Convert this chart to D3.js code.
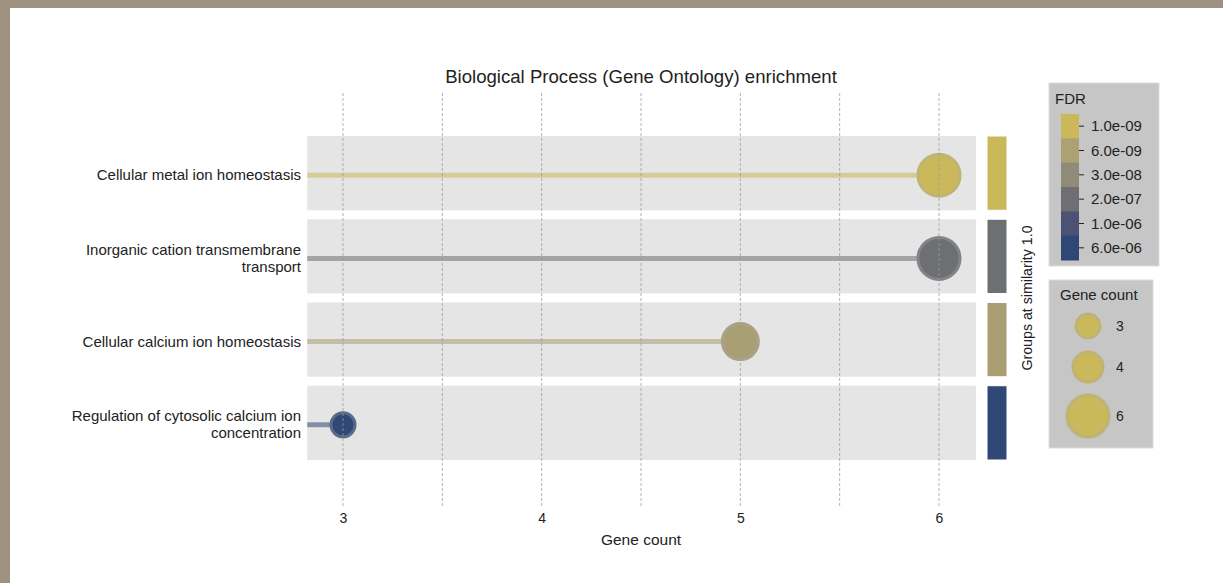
<html>
<head>
  <style type="text/css">
    body { margin: 0; background: #fff; }
    text { font-family: "Liberation Sans", Arial, sans-serif; }
  </style>
</head>
<body>
  <div id="viz"></div>
  <script src="https://cdnjs.cloudflare.com/ajax/libs/d3/7.8.5/d3.min.js"></script>
  <script>
  // data
  const terms = [
    'Cellular metal ion homeostasis',
    'Inorganic cation transmembrane transport',
    'Cellular calcium ion homeostasis',
    'Regulation of cytosolic calcium ion concentration'
  ];
  const termLines = [
    ['Cellular metal ion homeostasis'],
    ['Inorganic cation transmembrane', 'transport'],
    ['Cellular calcium ion homeostasis'],
    ['Regulation of cytosolic calcium ion', 'concentration']
  ];
  const geneCounts = [6, 6, 5, 3];
  const fdrValues = [1.0e-9, 2.0e-7, 7.0e-9, 5.5e-6];
  const xTicks = [3, 4, 5, 6];
  const xGridTicks = [3, 3.5, 4, 4.5, 5, 5.5, 6];
  const fdrTicks = [1.0e-9, 6.0e-9, 3.0e-8, 2.0e-7, 1.0e-6, 6.0e-6];
  const fdrTickLabels = ['1.0e-09', '6.0e-09', '3.0e-08', '2.0e-07', '1.0e-06', '6.0e-06'];
  const fdrColors = ['#cab85a', '#ada072', '#908a78', '#6e6f73', '#4b5273', '#2f4775'];
  const sizeLegend = [3, 4, 6];

  const W = 1223, H = 583;

  const svg = d3.select('#viz').append('svg')
    .attr('width', W)
    .attr('height', H);

  // tan frame on top and left
  svg.append('rect').attr('x', 0).attr('y', 0).attr('width', W).attr('height', H).attr('fill', '#9c927f');
  svg.append('rect').attr('x', 10).attr('y', 8).attr('width', W - 10).attr('height', H - 8).attr('fill', '#fff');

  const x = d3.scaleLinear().domain([3, 6]).range([343, 939]);
  const xExtent = [2.82, 6.186];

  const y = d3.scaleBand()
    .domain(terms)
    .range([136, 460])
    .paddingInner(0.108)
    .paddingOuter(0);

  const r = d3.scaleLinear().domain([3, 6]).range([13.5, 22.5]);

  const color = d3.scaleLog()
    .domain(fdrTicks)
    .range(fdrColors)
    .interpolate(d3.interpolateRgb)
    .clamp(true);

  // title
  svg.append('text')
    .attr('x', x(4.5))
    .attr('y', 83)
    .attr('text-anchor', 'middle')
    .attr('font-size', 18.6)
    .attr('fill', '#222')
    .text('Biological Process (Gene Ontology) enrichment');

  // row bands
  svg.append('g').selectAll('rect').data(terms)
    .enter().append('rect')
      .attr('x', x(xExtent[0]))
      .attr('width', x(xExtent[1]) - x(xExtent[0]))
      .attr('y', d => y(d))
      .attr('height', y.bandwidth())
      .attr('fill', '#e5e5e5');

  // group colour bars
  svg.append('g').selectAll('rect').data(terms)
    .enter().append('rect')
      .attr('x', 987)
      .attr('width', 20)
      .attr('y', d => y(d))
      .attr('height', y.bandwidth())
      .attr('fill', (d, i) => color(fdrValues[i]))
      .attr('stroke', '#fff')
      .attr('stroke-width', 1);

  svg.append('text')
    .attr('transform', 'translate(1032,' + (y.range()[0] + y.range()[1]) / 2 + ') rotate(-90)')
    .attr('text-anchor', 'middle')
    .attr('font-size', 14.2)
    .attr('fill', '#222')
    .text('Groups at similarity 1.0');

  // lollipop stems
  const cy = d => y(d) + y.bandwidth() / 2 + 2;

  svg.append('g').selectAll('line').data(terms)
    .enter().append('line')
      .attr('x1', x(xExtent[0]))
      .attr('x2', (d, i) => x(geneCounts[i]))
      .attr('y1', cy)
      .attr('y2', cy)
      .attr('stroke', (d, i) => color(fdrValues[i]))
      .attr('stroke-opacity', 0.55)
      .attr('stroke-width', 5);

  // circles
  svg.append('g').selectAll('circle').data(terms)
    .enter().append('circle')
      .attr('cx', (d, i) => x(geneCounts[i]))
      .attr('cy', cy)
      .attr('r', (d, i) => r(geneCounts[i]) - 1.5)
      .attr('fill', (d, i) => color(fdrValues[i]))
      .attr('stroke', (d, i) => d3.interpolateRgb(color(fdrValues[i]), '#aaa')(0.35))
      .attr('stroke-width', 3);

  // dashed grid lines
  svg.append('g').selectAll('line').data(xGridTicks)
    .enter().append('line')
      .attr('x1', d => x(d))
      .attr('x2', d => x(d))
      .attr('y1', 93)
      .attr('y2', 507)
      .attr('stroke', '#999')
      .attr('stroke-opacity', 0.75)
      .attr('stroke-dasharray', '3,2')
      .attr('stroke-width', 1);

  // x axis labels
  const xAxis = d3.axisBottom(x).tickValues(xTicks).tickFormat(d3.format('d')).tickSize(0).tickPadding(0);
  const xg = svg.append('g')
    .attr('transform', 'translate(0,513)')
    .call(xAxis);
  xg.select('.domain').remove();
  xg.selectAll('text').attr('font-size', 14).attr('fill', '#222').attr('font-family', '"Liberation Sans", Arial, sans-serif');

  svg.append('text')
    .attr('x', x(4.5))
    .attr('y', 545)
    .attr('text-anchor', 'middle')
    .attr('font-size', 15.5)
    .attr('fill', '#222')
    .text('Gene count');

  // y labels
  const yl = svg.append('g').selectAll('text').data(terms)
    .enter().append('text')
      .attr('x', 301)
      .attr('y', cy)
      .attr('text-anchor', 'end')
      .attr('font-size', 15)
      .attr('fill', '#222');
  yl.each(function(d, i) {
    const lines = termLines[i];
    const n = lines.length;
    d3.select(this).selectAll('tspan').data(lines)
      .enter().append('tspan')
        .attr('x', 301)
        .attr('dy', (l, j) => j === 0 ? ((-(n - 1) * 17) / 2 + 5) + 'px' : '17px')
        .text(l => l);
  });

  // FDR legend
  const lg = svg.append('g');
  lg.append('rect').attr('x', 1049).attr('y', 83).attr('width', 110).attr('height', 183)
    .attr('fill', '#c6c6c6').attr('stroke', '#ddd');
  lg.append('text').attr('x', 1055).attr('y', 104).attr('font-size', 15).attr('fill', '#222').text('FDR');

  const sw = d3.scaleBand().domain(fdrTickLabels).range([114, 260]);
  lg.selectAll('.sw').data(fdrTickLabels)
    .enter().append('rect')
      .attr('x', 1061)
      .attr('y', d => sw(d))
      .attr('width', 18)
      .attr('height', sw.bandwidth() + 0.5)
      .attr('fill', (d, i) => fdrColors[i]);
  lg.selectAll('.tk').data(fdrTickLabels)
    .enter().append('line')
      .attr('x1', 1079).attr('x2', 1084)
      .attr('y1', d => sw(d) + sw.bandwidth() / 2)
      .attr('y2', d => sw(d) + sw.bandwidth() / 2)
      .attr('stroke', '#222');
  lg.selectAll('.lb').data(fdrTickLabels)
    .enter().append('text')
      .attr('x', 1091)
      .attr('y', d => sw(d) + sw.bandwidth() / 2 + 5)
      .attr('font-size', 15)
      .attr('fill', '#222')
      .text(d => d);

  // gene count legend
  const sg = svg.append('g');
  sg.append('rect').attr('x', 1049).attr('y', 280).attr('width', 104).attr('height', 168)
    .attr('fill', '#c6c6c6').attr('stroke', '#ddd');
  sg.append('text').attr('x', 1060).attr('y', 300).attr('font-size', 15).attr('fill', '#222').text('Gene count');
  const sy = d3.scalePoint().domain(sizeLegend).range([326, 416]);
  const syPos = d => d === 4 ? 367 : sy(d);
  sg.selectAll('circle').data(sizeLegend)
    .enter().append('circle')
      .attr('cx', 1088)
      .attr('cy', syPos)
      .attr('r', d => r(d) - 1.5)
      .attr('fill', fdrColors[0])
      .attr('stroke', d3.interpolateRgb(fdrColors[0], '#aaa')(0.35))
      .attr('stroke-width', 3);
  sg.selectAll('.sl').data(sizeLegend)
    .enter().append('text')
      .attr('x', 1116)
      .attr('y', d => syPos(d) + 5)
      .attr('font-size', 14)
      .attr('fill', '#222')
      .text(d => d);
  </script>
</body>
</html>
